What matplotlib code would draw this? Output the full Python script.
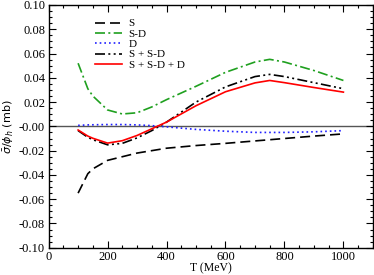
import numpy as np
import matplotlib
matplotlib.use('Agg')
import matplotlib.pyplot as plt
from matplotlib.ticker import MultipleLocator

# Energies (MeV) at which the curves are read.
T = [100, 133, 150, 200, 250, 300, 350, 400, 500, 600, 700, 750, 800, 900, 1000]

s_wave = [-0.055, -0.039, -0.035, -0.028, -0.025, -0.022, -0.020, -0.018, -0.0158,
          -0.014, -0.012, -0.011, -0.010, -0.008, -0.0062]
sd_wave = [0.052, 0.031, 0.025, 0.0135, 0.0102, 0.0112, 0.016, 0.022, 0.033,
           0.0445, 0.053, 0.0552, 0.053, 0.046, 0.0378]
d_wave = [0.0008, 0.0012, 0.0013, 0.0015, 0.0015, 0.0012, 0.0006, -0.0004, -0.0025,
          -0.004, -0.005, -0.005, -0.005, -0.0045, -0.0035]
s_plus_sd = [-0.0035, -0.009, -0.011, -0.0152, -0.014, -0.0095, -0.0035, 0.0035, 0.020,
             0.0325, 0.041, 0.0428, 0.041, 0.036, 0.031]
s_sd_d = [-0.003, -0.008, -0.0098, -0.0138, -0.0118, -0.0075, -0.002, 0.0035, 0.017,
          0.0285, 0.0358, 0.0378, 0.036, 0.032, 0.0282]

labels = ['S', 'S-D', 'D', 'S + S-D', 'S + S-D + D']

serif = 'Liberation Serif'

fig = plt.figure(figsize=(3.74, 2.75), dpi=100)
ax = fig.add_axes([0.130, 0.099, 0.867, 0.883])

ax.axhline(0, color='#555555', lw=1.0, zorder=1)
ax.plot(T, s_wave, color='black', lw=1.2, dashes=(6, 3), label=labels[0])
ax.plot(T, sd_wave, color='#1fa01f', lw=1.2, dashes=(6, 2, 1.2, 2), label=labels[1])
ax.plot(T, d_wave, color='#2020ff', lw=1.2, dashes=(1, 1.8), label=labels[2])
ax.plot(T, s_plus_sd, color='black', lw=1.2, dashes=(6, 2, 1.2, 2, 1.2, 2), label=labels[3])
ax.plot(T, s_sd_d, color='red', lw=1.2, label=labels[4])

ax.set_xlim(0, 1100)
ax.set_ylim(-0.10, 0.10)
ax.xaxis.set_major_locator(MultipleLocator(200))
ax.xaxis.set_minor_locator(MultipleLocator(50))
ax.yaxis.set_major_locator(MultipleLocator(0.02))
ax.yaxis.set_minor_locator(MultipleLocator(0.005))
ax.yaxis.set_major_formatter(matplotlib.ticker.FormatStrFormatter('%.2f'))
ax.tick_params(which='both', direction='in', top=True, right=True, width=0.8)
ax.tick_params(which='major', length=5, labelsize=9, pad=2.5)
ax.tick_params(which='minor', length=2.5)
for lab in ax.get_xticklabels() + ax.get_yticklabels():
    lab.set_family(serif)
for sp in ax.spines.values():
    sp.set_linewidth(1.0)

ax.set_xlabel('T (MeV)', family=serif, fontsize=8.5, labelpad=-0.5)
ax.set_ylabel(r'$\bar{\sigma}/\phi_h$ (mb)', fontsize=8, labelpad=2)

leg = ax.legend(loc='upper left', bbox_to_anchor=(0.13, 0.962), frameon=False,
                prop={'family': serif, 'size': 8}, handlelength=2.4,
                handletextpad=0.6, labelspacing=0.05, borderaxespad=0)

fig.savefig('out.png', dpi=100)
